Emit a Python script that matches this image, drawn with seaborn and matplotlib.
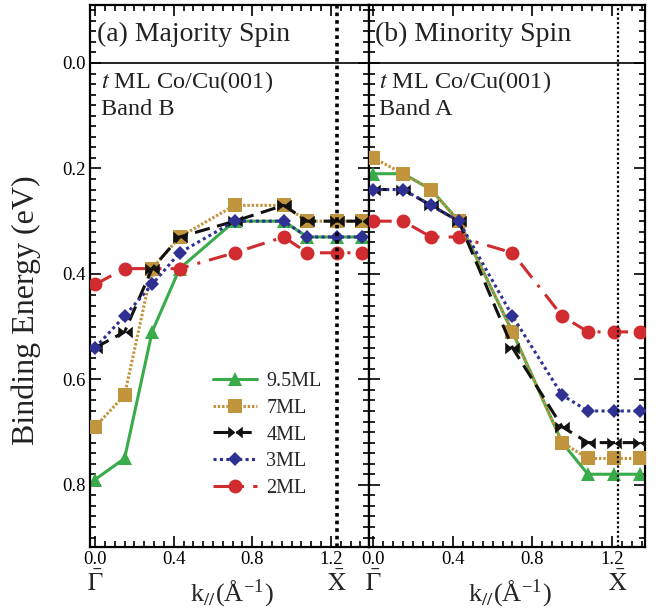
import numpy as np
import pandas as pd
import matplotlib
matplotlib.use("Agg")
import matplotlib.pyplot as plt
import matplotlib.transforms as mtransforms
from matplotlib.path import Path
from matplotlib.ticker import MultipleLocator
import seaborn as sns

sns.set_style("ticks")
plt.rcParams['font.family'] = ['Liberation Serif', 'DejaVu Serif']
plt.rcParams['mathtext.fontset'] = 'stix'

# ---------------- data ----------------
labels = ["9.5ML", "7ML", "4ML", "3ML", "2ML"]

k_maj = [0.0, 0.15, 0.29, 0.43, 0.71, 0.96, 1.08, 1.23, 1.36]
maj_95 = [0.79, 0.75, 0.51, 0.39, 0.30, 0.30, 0.33, 0.33, 0.33]
maj_7 = [0.69, 0.63, 0.39, 0.33, 0.27, 0.27, 0.30, 0.30, 0.30]
maj_4 = [0.54, 0.51, 0.39, 0.33, 0.30, 0.27, 0.30, 0.30, 0.30]
maj_3 = [0.54, 0.48, 0.42, 0.36, 0.30, 0.30, 0.33, 0.33, 0.33]
maj_2 = [0.42, 0.39, 0.39, 0.39, 0.36, 0.33, 0.36, 0.36, 0.36]

k_min = [0.0, 0.15, 0.29, 0.43, 0.70, 0.95, 1.08, 1.21, 1.34]
min_95 = [0.21, 0.21, 0.24, 0.30, 0.51, 0.72, 0.78, 0.78, 0.78]
min_7 = [0.18, 0.21, 0.24, 0.30, 0.51, 0.72, 0.75, 0.75, 0.75]
min_4 = [0.24, 0.24, 0.27, 0.30, 0.54, 0.69, 0.72, 0.72, 0.72]
min_3 = [0.24, 0.24, 0.27, 0.30, 0.48, 0.63, 0.66, 0.66, 0.66]
min_2 = [0.30, 0.30, 0.33, 0.33, 0.36, 0.48, 0.51, 0.51, 0.51]

x_ticks = [0.0, 0.4, 0.8, 1.2]
y_ticks = [0.0, 0.2, 0.4, 0.6, 0.8]
x_point = 1.23

# ---------------- styles ----------------
bowtie = Path([(-1, -0.8), (0, 0), (-1, 0.8), (-1, -0.8),
               (1, -0.8), (0, 0), (1, 0.8), (1, -0.8)],
              [Path.MOVETO, Path.LINETO, Path.LINETO, Path.CLOSEPOLY,
               Path.MOVETO, Path.LINETO, Path.LINETO, Path.CLOSEPOLY])

styles = {
    "9.5ML": dict(color="#3aab4b", marker="^", ms=10, ls="-", z=2),
    "7ML": dict(color="#c0953e", marker="s", ms=9.5, ls=(0, (0.8, 0.6)), z=4),
    "4ML": dict(color="#111111", marker=bowtie, ms=10.5, ls=(0, (5, 2.5)), z=5),
    "3ML": dict(color="#2e3192", marker="D", ms=7.5, ls=(0, (1, 1.1)), z=6),
    "2ML": dict(color="#d02b2f", marker="o", ms=10, ls=(0, (6, 3, 1, 3)), z=3),
}

fig = plt.figure(figsize=(6.56, 6.10), dpi=100)
ax1 = fig.add_axes([90 / 656, 1 - 547 / 610, 279 / 656, 542 / 610])
ax2 = fig.add_axes([369 / 656, 1 - 547 / 610, 276 / 656, 542 / 610])

panels = [
    (ax1, k_maj, [maj_95, maj_7, maj_4, maj_3, maj_2], (-0.026, 1.394),
     "(a) Majority Spin", "Band B", 2.6),
    (ax2, k_min, [min_95, min_7, min_4, min_3, min_2], (-0.022, 1.367),
     "(b) Minority Spin", "Band A", 1.6),
]

for ax, kk, series, xlim, title, band, vlw in panels:
    for lab, yy in zip(labels, series):
        st = styles[lab]
        df = pd.DataFrame({"k": kk, "E": yy})
        sns.lineplot(data=df, x="k", y="E", ax=ax, color=st["color"],
                     marker=st["marker"], markersize=st["ms"],
                     markeredgewidth=0, linestyle=st["ls"], linewidth=2.2,
                     zorder=st["z"], label=lab, legend=False)
    ax.axhline(0.0, color="black", lw=1.2, zorder=1)
    ax.axvline(x_point, color="black", lw=vlw, ls=(0, (1, 1.1)), zorder=7)
    ax.set_xlim(*xlim)
    ax.set_ylim(0.918, -0.11)
    ax.set_xticks(x_ticks)
    ax.set_xticklabels([f"{v:.1f}" for v in x_ticks])
    ax.set_yticks(y_ticks)
    ax.set_yticklabels([f"{v:.1f}" for v in y_ticks])
    ax.xaxis.set_minor_locator(MultipleLocator(0.05))
    ax.yaxis.set_minor_locator(MultipleLocator(0.02))
    ax.tick_params(which="both", direction="in", top=True, right=True,
                   width=1.2, labelsize=13.5, colors="black")
    ax.tick_params(which="major", length=8, pad=3)
    ax.tick_params(which="minor", length=4)
    for sp in ax.spines.values():
        sp.set_linewidth(1.6)
        sp.set_color("black")
    ax.set_xlabel("")
    ax.set_ylabel("")
    ax.text(0.01, -0.055, title, fontsize=20, va="center", ha="left",
            color="#222222")
    ax.text(0.03, 0.036, r"$t$ ML Co/Cu(001)", fontsize=17.5, va="center",
            ha="left", color="#222222")
    ax.text(0.03, 0.089, band, fontsize=17.5, va="center", ha="left",
            color="#222222")
    tr = mtransforms.blended_transform_factory(ax.transData, ax.transAxes)
    ax.text(0.0, -0.068, r"$\bar{\mathrm{\Gamma}}$", transform=tr,
            fontsize=18, ha="center", va="center")
    ax.text(x_point, -0.068, r"$\bar{\mathrm{X}}$", transform=tr,
            fontsize=18, ha="center", va="center")
    ax.text(0.51, -0.087, r"k$_{//}$(Å$^{\mathregular{-1}}$)",
            transform=ax.transAxes, fontsize=19, ha="center", va="center")

ax2.tick_params(labelleft=False)

handles, labs = ax1.get_legend_handles_labels()
order = [labs.index(l) for l in labels]
ax1.legend([handles[i] for i in order], [labs[i] for i in order],
           loc="upper left", bbox_to_anchor=(0.44, 0.323), frameon=False,
           fontsize=14.5, handlelength=2.2, handletextpad=0.45,
           labelspacing=0.38, borderpad=0, borderaxespad=0)

fig.text(0.04, 0.492, "Binding Energy (eV)", rotation=90, fontsize=23,
         ha="center", va="center", color="#222222")

fig.savefig("out.png", dpi=100)
